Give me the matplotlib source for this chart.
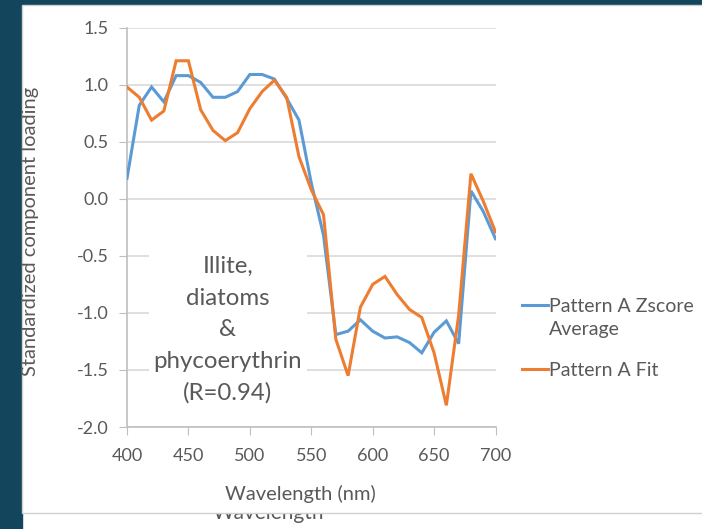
import matplotlib.pyplot as plt
from matplotlib.patches import Rectangle

plt.rcParams['font.family'] = ['Lato', 'DejaVu Sans']

# spectral loadings, 10 nm steps
wavelength = [400, 410, 420, 430, 440, 450, 460, 470, 480, 490, 500,
              510, 520, 530, 540, 550, 560, 570, 580, 590, 600,
              610, 620, 630, 640, 650, 660, 670, 680, 690, 700]
zscore_avg = [0.18, 0.82, 0.98, 0.85, 1.08, 1.08, 1.02, 0.89, 0.89, 0.94, 1.09,
              1.09, 1.05, 0.88, 0.69, 0.14, -0.32, -1.19, -1.16, -1.06, -1.16,
              -1.22, -1.21, -1.26, -1.35, -1.17, -1.07, -1.27, 0.07, -0.11, -0.35]
pattern_fit = [0.98, 0.89, 0.69, 0.77, 1.21, 1.21, 0.78, 0.60, 0.51, 0.58, 0.79,
               0.94, 1.04, 0.89, 0.37, 0.08, -0.14, -1.23, -1.55, -0.95, -0.75,
               -0.68, -0.84, -0.97, -1.04, -1.35, -1.81, -1.02, 0.22, -0.02, -0.29]
series_labels = ["Pattern A Zscore\nAverage", "Pattern A Fit"]
x_ticks = [400, 450, 500, 550, 600, 650, 700]
y_ticks = [1.5, 1.0, 0.5, 0.0, -0.5, -1.0, -1.5, -2.0]
note = "Illite,\ndiatoms\n&\nphycoerythrin\n(R=0.94)"

BLUE = "#5b9bd5"
ORANGE = "#ed7d31"
GREY_TXT = "#595959"
GRID = "#d9d9d9"
TEAL = "#13465c"

W, H = 702, 529
fig = plt.figure(figsize=(W / 100, H / 100), dpi=100)

# slide background in pixel coordinates
bg = fig.add_axes([0, 0, 1, 1], zorder=0)
bg.set_xlim(0, W)
bg.set_ylim(H, 0)
bg.axis("off")
bg.add_patch(Rectangle((0, 0), 22, H, color=TEAL, zorder=1))
bg.add_patch(Rectangle((0, 0), W, 5, color=TEAL, zorder=1))
# old axis title peeking out under the chart panel
bg.text(268, 519, "Wavelength", ha="center", va="baseline", fontsize=15,
        color=GREY_TXT, zorder=2)
bg.add_patch(Rectangle((22, 5), W, 508, facecolor="white",
                       edgecolor="#d0d0d0", lw=1, zorder=3))

ax = fig.add_axes([127 / W, 1 - 427 / H, (495.5 - 127) / W, (427 - 27.7) / H], zorder=1)
ax.set_facecolor("none")

lines = []
for ys, col in ((zscore_avg, BLUE), (pattern_fit, ORANGE)):
    ln, = ax.plot(wavelength, ys, color=col, lw=2.2, solid_joinstyle="miter", zorder=3)
    lines.append(ln)

ax.set_xlim(400, 700)
ax.set_ylim(-2.0, 1.5)
ax.set_xticks(x_ticks)
ax.set_yticks(y_ticks)
ax.set_yticklabels([f"{v:.1f}" for v in y_ticks])
ax.grid(axis="y", color=GRID, lw=1.2, zorder=0)
ax.set_axisbelow(True)
for side in ("top", "right"):
    ax.spines[side].set_visible(False)
for side in ("left", "bottom"):
    ax.spines[side].set_color("#bfbfbf")
    ax.spines[side].set_linewidth(1.2)
ax.tick_params(axis="both", direction="out", length=6, color="#bfbfbf",
               labelcolor=GREY_TXT, labelsize=13)
ax.tick_params(axis="y", pad=7)
ax.tick_params(axis="x", pad=9)

ax.set_xlabel("Wavelength (nm)", fontsize=14.5, color=GREY_TXT)
ax.xaxis.set_label_coords(0.47, -0.145)
ax.set_ylabel("Standardized component loading", fontsize=14.5, color=GREY_TXT)
ax.yaxis.set_label_coords(-0.24, 0.49)

ax.text(482, -1.15, note, ha="center", va="center", fontsize=17.3,
        color=GREY_TXT, linespacing=1.62, zorder=2,
        bbox=dict(boxstyle="square,pad=0.2", facecolor="white", edgecolor="none"))

# legend: key line beside the first text line of each entry
for ln, label, y_key in zip(lines, series_labels, (305, 369)):
    bg.plot([522, 548], [y_key, y_key], color=ln.get_color(), lw=2.2, zorder=4)
    bg.text(549, y_key - 7, label, ha="left", va="top", fontsize=14,
            color=GREY_TXT, linespacing=1.45, zorder=4)

fig.savefig("out.png", dpi=100)
